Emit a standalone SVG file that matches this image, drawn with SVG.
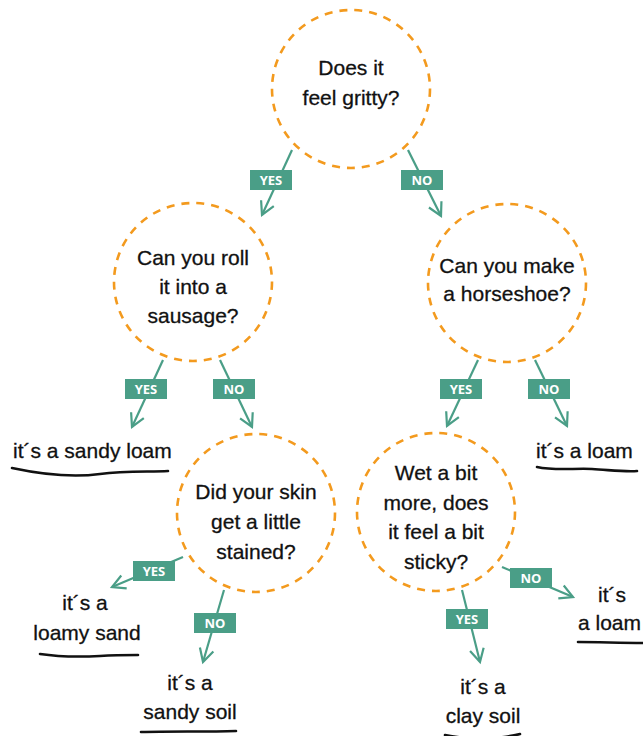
<svg xmlns="http://www.w3.org/2000/svg" width="643" height="736" viewBox="0 0 643 736">
<defs>
<style>
.q{fill:none;stroke:#f39a1e;stroke-width:2.6;stroke-dasharray:8 7}
.t{font-family:"Liberation Sans",Arial,sans-serif;font-size:21px;fill:#111;stroke:#111;stroke-width:0.3;text-anchor:middle}
.ts{font-family:"Liberation Sans",Arial,sans-serif;font-size:21px;fill:#111;stroke:#111;stroke-width:0.3}
.c{stroke:#4a9e87;stroke-width:2.2;fill:none}
.lb{fill:#4a9e87}
.lt{font-family:"Open Sans","Liberation Sans",sans-serif;font-weight:bold;font-size:13px;fill:#fff;text-anchor:middle}
.u{fill:none;stroke:#111;stroke-width:2.6;stroke-linecap:round}
</style>
<marker id="ah" markerUnits="userSpaceOnUse" markerWidth="30" markerHeight="30" refX="0" refY="0" viewBox="-15 -15 30 30" orient="auto">
<path d="M-13,-7 L0,0 L-13,7" fill="none" stroke="#4a9e87" stroke-width="2.2"/>
</marker>
</defs>
<rect width="643" height="736" fill="#fff"/>
<g id="connectors">
<line class="c" x1="292" y1="150" x2="262" y2="215" marker-end="url(#ah)"/>
<line class="c" x1="408" y1="150" x2="441" y2="216" marker-end="url(#ah)"/>
<line class="c" x1="163" y1="360" x2="132" y2="427" marker-end="url(#ah)"/>
<line class="c" x1="220" y1="360" x2="252" y2="427" marker-end="url(#ah)"/>
<line class="c" x1="478" y1="360" x2="447" y2="426" marker-end="url(#ah)"/>
<line class="c" x1="535" y1="360" x2="567" y2="426" marker-end="url(#ah)"/>
<line class="c" x1="183" y1="557" x2="112" y2="587" marker-end="url(#ah)"/>
<line class="c" x1="224" y1="590" x2="203" y2="662" marker-end="url(#ah)"/>
<line class="c" x1="502" y1="567" x2="573" y2="597" marker-end="url(#ah)"/>
<line class="c" x1="462" y1="590" x2="480" y2="662" marker-end="url(#ah)"/>
<rect class="lb" x="250" y="170" width="42" height="20"/><text class="lt" x="271" y="185">YES</text>
<rect class="lb" x="401" y="170" width="42" height="20"/><text class="lt" x="422" y="185">NO</text>
<rect class="lb" x="125" y="379" width="42" height="20"/><text class="lt" x="146" y="394">YES</text>
<rect class="lb" x="213" y="379" width="42" height="20"/><text class="lt" x="234" y="394">NO</text>
<rect class="lb" x="440" y="379" width="42" height="20"/><text class="lt" x="461" y="394">YES</text>
<rect class="lb" x="528" y="379" width="42" height="20"/><text class="lt" x="549" y="394">NO</text>
<rect class="lb" x="133" y="561" width="42" height="20"/><text class="lt" x="154" y="576">YES</text>
<rect class="lb" x="194" y="613" width="42" height="20"/><text class="lt" x="215" y="628">NO</text>
<rect class="lb" x="510" y="568" width="42" height="20"/><text class="lt" x="531" y="583">NO</text>
<rect class="lb" x="446" y="609" width="42" height="20"/><text class="lt" x="467" y="624">YES</text>
</g>
<g id="q1">
<circle class="q" cx="351" cy="89" r="79"/>
<text class="t" x="351" y="75">Does it</text>
<text class="t" x="351" y="105">feel gritty?</text>
</g>
<g id="q2">
<circle class="q" cx="193" cy="282" r="79"/>
<text class="t" x="193" y="265">Can you roll</text>
<text class="t" x="193" y="294">it into a</text>
<text class="t" x="193" y="323">sausage?</text>
</g>
<g id="q3">
<circle class="q" cx="507" cy="283" r="79"/>
<text class="t" x="507" y="273">Can you make</text>
<text class="t" x="507" y="301">a horseshoe?</text>
</g>
<g id="q4">
<circle class="q" cx="256" cy="513" r="79"/>
<text class="t" x="256" y="499">Did your skin</text>
<text class="t" x="256" y="529">get a little</text>
<text class="t" x="256" y="559">stained?</text>
</g>
<g id="q5">
<circle class="q" cx="436" cy="512" r="79"/>
<text class="t" x="436" y="480">Wet a bit</text>
<text class="t" x="436" y="510">more, does</text>
<text class="t" x="436" y="539">it feel a bit</text>
<text class="t" x="436" y="569">sticky?</text>
</g>
<g id="sandy-loam">
<text class="ts" x="13" y="458">it´s a sandy loam</text>
<path class="u" d="M12,468 C40,474 70,478 100,474 C125,471 150,472 168,471"/>
</g>
<g id="loam1">
<text class="ts" x="536" y="458">it´s a loam</text>
<path class="u" d="M537,467 C555,471 575,468 592,469 C610,470 625,472 637,471"/>
</g>
<g id="loamy-sand">
<text class="t" x="85" y="610">it´s a</text>
<text class="t" x="87" y="640">loamy sand</text>
<path class="u" d="M40,654 C60,657 80,657 100,656 C115,655 128,655 138,655"/>
</g>
<g id="sandy-soil">
<text class="t" x="190" y="690">it´s a</text>
<text class="t" x="190" y="719">sandy soil</text>
<path class="u" d="M141,732 C170,731 205,732 236,731"/>
</g>
<g id="loam2">
<text class="t" x="612" y="602">it´s</text>
<text class="ts" x="578" y="630">a loam</text>
<path class="u" d="M578,642 C600,642 620,643 645,643"/>
</g>
<g id="clay-soil">
<text class="t" x="483" y="694">it´s a</text>
<text class="t" x="483" y="723">clay soil</text>
<path class="u" d="M445,735 C470,740 495,740 520,734"/>
</g>
</svg>
